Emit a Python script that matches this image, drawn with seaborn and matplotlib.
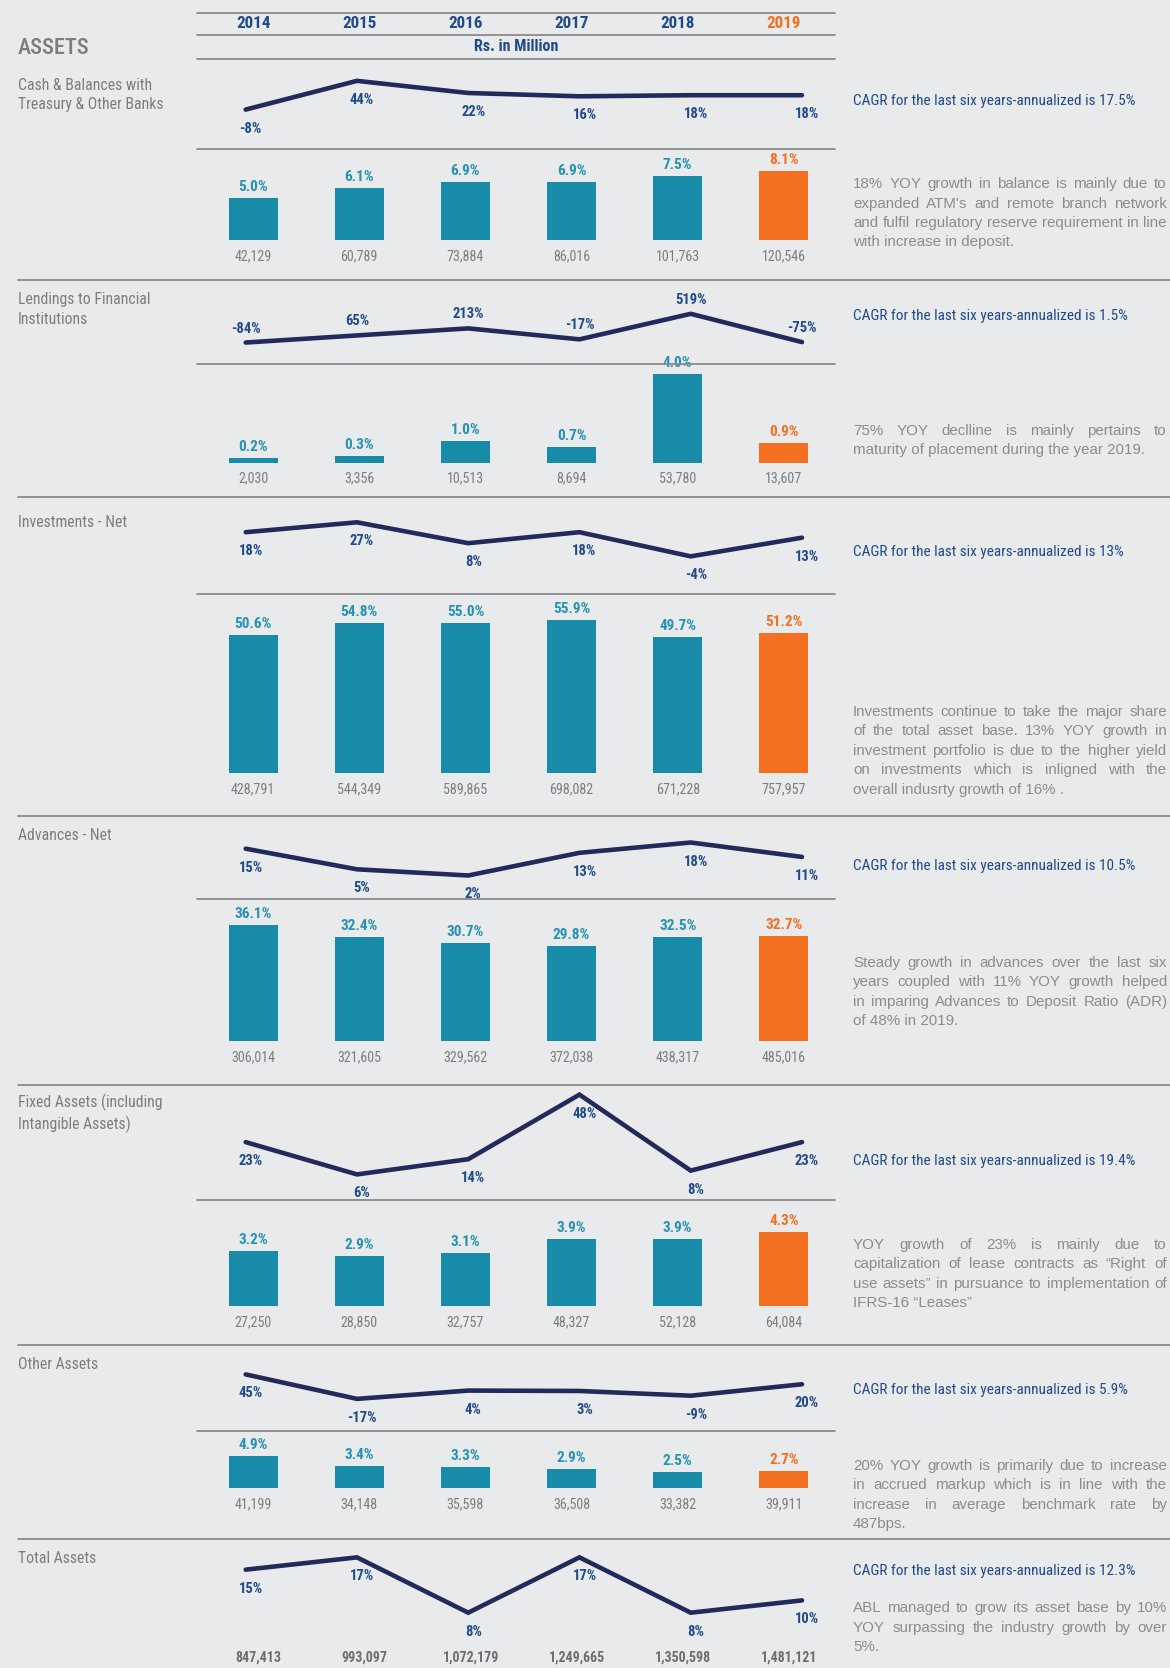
import matplotlib
matplotlib.use("Agg")
import matplotlib.pyplot as plt
from matplotlib import font_manager
from matplotlib.lines import Line2D
import seaborn as sns

# ---- data (Rs. in Million) ----
years = ["2014", "2015", "2016", "2017", "2018", "2019"]

cash_growth = [-8, 44, 22, 16, 18, 18]
cash_share = [5.0, 6.1, 6.9, 6.9, 7.5, 8.1]
cash_amount = [42129, 60789, 73884, 86016, 101763, 120546]

lend_growth = [-84, 65, 213, -17, 519, -75]
lend_share = [0.2, 0.3, 1.0, 0.7, 4.0, 0.9]
lend_amount = [2030, 3356, 10513, 8694, 53780, 13607]

inv_growth = [18, 27, 8, 18, -4, 13]
inv_share = [50.6, 54.8, 55.0, 55.9, 49.7, 51.2]
inv_amount = [428791, 544349, 589865, 698082, 671228, 757957]

adv_growth = [15, 5, 2, 13, 18, 11]
adv_share = [36.1, 32.4, 30.7, 29.8, 32.5, 32.7]
adv_amount = [306014, 321605, 329562, 372038, 438317, 485016]

fix_growth = [23, 6, 14, 48, 8, 23]
fix_share = [3.2, 2.9, 3.1, 3.9, 3.9, 4.3]
fix_amount = [27250, 28850, 32757, 48327, 52128, 64084]

oth_growth = [45, -17, 4, 3, -9, 20]
oth_share = [4.9, 3.4, 3.3, 2.9, 2.5, 2.7]
oth_amount = [41199, 34148, 35598, 36508, 33382, 39911]

tot_growth = [15, 17, 8, 17, 8, 10]
tot_amount = [847413, 993097, 1072179, 1249665, 1350598, 1481121]

cagr = ["17.5%", "1.5%", "13%", "10.5%", "19.4%", "5.9%", "12.3%"]

notes = [
    ["18% YOY growth in balance is mainly due to",
     "expanded ATM's and remote branch network",
     "and fulfil regulatory reserve requirement in line",
     "with increase in deposit."],
    ["75% YOY declline is mainly pertains to",
     "maturity of placement during the year 2019."],
    ["Investments continue to take the major share",
     "of the total asset base. 13% YOY growth in",
     "investment portfolio is due to the higher yield",
     "on investments which is inligned with the",
     "overall indusrty growth of 16% ."],
    ["Steady growth in advances over the last six",
     "years coupled with 11% YOY growth helped",
     "in imparing Advances to Deposit Ratio (ADR)",
     "of 48% in 2019."],
    ["YOY growth of 23% is mainly due to",
     "capitalization of lease contracts as \u201cRight of",
     "use assets\u201d in pursuance to implementation of",
     "IFRS-16 \u201cLeases\u201d"],
    ["20% YOY growth is primarily due to increase",
     "in accrued markup which is in line with the",
     "increase in average benchmark rate by",
     "487bps."],
    ["ABL managed to grow its asset base by 10%",
     "YOY surpassing the industry growth by over",
     "5%."],
]

# ---- style ----
BG = "#e9eaec"
TEAL = "#188ba8"
TEAL_TXT = "#2592b3"
ORANGE = "#f37021"
NAVY = "#222a5c"
BLUE = "#1f4a8c"
GRAY = "#7d7d7d"
RULE = "#8a8a8a"

sns.set_style("white")
names = {f.name for f in font_manager.fontManager.ttflist}
COND = next((n for n in ["Liberation Sans Narrow", "Roboto Condensed",
                         "Open Sans Condensed"] if n in names), None)
sq = 1.0
if COND is None:
    COND = "Roboto"
    sq = 0.84
plt.rcParams["font.family"] = [COND, "DejaVu Sans"]
BODY = ["Liberation Sans", "DejaVu Sans"]

fig = plt.figure(figsize=(11.7, 16.68), dpi=100)
fig.patch.set_facecolor(BG)

W, H = 1100.0, 1568.0
fx = lambda x: x / W
fy = lambda y: 1 - y / H

# line x-scale: point 0 at 231px, step 104.6px ; bar x-scale: 238px, step 99.8px
L0, R0 = 185, 785
LINE_XLIM = (-(231 - L0) / 104.6, 5 + (R0 - 754) / 104.6)
BAR_XLIM = (-(238 - L0) / 99.8, 5 + (R0 - 737) / 99.8)


def hline(y, x0=L0, x1=R0, lw=1.3):
    fig.add_artist(Line2D([fx(x0), fx(x1)], [fy(y), fy(y)],
                          transform=fig.transFigure, color=RULE, lw=lw))


def box(top, bot):
    return fig.add_axes([fx(L0), fy(bot), fx(R0) - fx(L0), (bot - top) / H])


def line_panel(vals, top, bot, above=False):
    ax = box(top, bot)
    sns.lineplot(x=list(range(6)), y=vals, color=NAVY, linewidth=3.3, ax=ax)
    for ln in ax.lines:
        ln.set_clip_on(False)
        ln.set_solid_joinstyle("miter")
    ax.set_xlim(*LINE_XLIM)
    ax.set_ylim(min(vals), max(vals))
    ax.axis("off")
    off = (0, 14) if above else (5, -19)
    for i, v in enumerate(vals):
        ax.annotate(f"{v}%", (i, v), xytext=off, textcoords="offset pixels",
                    ha="center", va="center", color=BLUE, fontsize=10 * sq + 0.5,
                    fontweight="bold")
    return ax


def bar_panel(share, amount, top, bot):
    ax = box(top, bot)
    pal = {y: (ORANGE if y == "2019" else TEAL) for y in years}
    sns.barplot(x=years, y=share, hue=years, palette=pal, width=0.46,
                saturation=1, legend=False, linewidth=0, edgecolor="none", ax=ax)
    ax.set_xlim(*BAR_XLIM)
    ax.set_ylim(0, max(share))
    ax.axis("off")
    for i, (s, a) in enumerate(zip(share, amount)):
        c = ORANGE if years[i] == "2019" else TEAL_TXT
        ax.annotate(f"{s:.1f}%", (i, s), xytext=(0, 11), textcoords="offset pixels",
                    ha="center", va="center", color=c, fontsize=10.5 * sq + 0.5,
                    fontweight="bold", annotation_clip=False)
        ax.annotate(f"{a:,}", (i, 0), xytext=(0, -16), textcoords="offset pixels",
                    ha="center", va="center", color=GRAY, fontsize=9.5 * sq + 0.6,
                    annotation_clip=False)
    return ax


def justified(lines, x0, y0, width, dy, **kw):
    renderer = fig.canvas.get_renderer()
    for k, line in enumerate(lines):
        y = fy(y0 + k * dy)
        words = line.split(" ")
        if k == len(lines) - 1 or len(words) == 1:
            fig.text(fx(x0), y, line, va="center", **kw)
            continue
        texts = [fig.text(0, y, w, va="center", **kw) for w in words]
        widths = [t.get_window_extent(renderer).width / fig.bbox.width for t in texts]
        gap = (width / W - sum(widths)) / (len(words) - 1)
        x = fx(x0)
        for t, w in zip(texts, widths):
            t.set_x(x)
            x += w + gap


# ---- header ----
hline(12)
hline(33)
hline(55)
hdr = box(12, 33)
hdr.set_xlim(*BAR_XLIM)
hdr.axis("off")
for i, y in enumerate(years):
    hdr.text(i, 0.5, y, ha="center", va="center", fontsize=11.5 * sq + 0.8,
             fontweight="bold", color=ORANGE if y == "2019" else BLUE,
             transform=hdr.get_xaxis_transform())
fig.text(fx(485), fy(44), "Rs. in Million", ha="center", va="center",
         fontsize=11 * sq + 0.6, fontweight="bold", color=BLUE)
fig.text(fx(17), fy(45), "ASSETS", ha="left", va="center",
         fontsize=15 * sq + 1, color=GRAY, fontweight="medium")

# ---- sections ----
sections = [
    # title, title_y, growth, line top/bot, above, sep, share, amount, bar top/bot, cagr_y, note_y
    ("Cash & Balances with\nTreasury & Other Banks", 89, cash_growth, 76, 103, False,
     140, cash_share, cash_amount, 161, 226, 95, 173),
    ("Lendings to Financial\nInstitutions", 291, lend_growth, 295, 322, True,
     342, lend_share, lend_amount, 352, 435, 297, 405),
    ("Investments - Net", 491, inv_growth, 491, 523, False,
     558, inv_share, inv_amount, 583, 727, 519, 669),
    ("Advances - Net", 785, adv_growth, 792, 823, False,
     845, adv_share, adv_amount, 870, 979, 814, 905),
    ("Fixed Assets (including\nIntangible Assets)", 1047, fix_growth, 1029, 1104, False,
     1128, fix_share, fix_amount, 1158, 1228, 1091, 1170),
    ("Other Assets", 1283, oth_growth, 1292, 1315, False,
     1345, oth_share, oth_amount, 1369, 1399, 1307, 1378),
]
rules = [263, 467, 767, 1020, 1264, 1447]

for k, (title, ty, g, lt, lb, above, sep, sh, am, bt, bb, cy, ny) in enumerate(sections):
    fig.text(fx(17), fy(ty), title, ha="left", va="center", fontsize=10.8 * sq + 0.5,
             color=GRAY, linespacing=1.35)
    line_panel(g, lt, lb, above)
    hline(sep)
    bar_panel(sh, am, bt, bb)
    fig.text(fx(802), fy(cy), f"CAGR for the last six years-annualized is {cagr[k]}",
             ha="left", va="center", fontsize=10.5 * sq + 0.5, color=BLUE)
    justified(notes[k], 802, ny, 295, 18.3, family=BODY, fontsize=10.9, color="#8c8c8c")
    hline(rules[k], 17, 1100)

# ---- total assets ----
fig.text(fx(17), fy(1465), "Total Assets", ha="left", va="center",
         fontsize=10.8 * sq + 0.5, color=GRAY)
line_panel(tot_growth, 1464, 1516, False)
tax = box(1550, 1566)
tax.set_xlim(*BAR_XLIM)
tax.axis("off")
for i, a in enumerate(tot_amount):
    tax.text(i + 0.05, 0.5, f"{a:,}", ha="center", va="center", fontsize=9.5 * sq + 0.6,
             fontweight="bold", color="#6e6e6e", transform=tax.get_xaxis_transform())
fig.text(fx(802), fy(1477), f"CAGR for the last six years-annualized is {cagr[6]}",
         ha="left", va="center", fontsize=10.5 * sq + 0.5, color=BLUE)
justified(notes[6], 802, 1512, 295, 18.3, family=BODY, fontsize=10.9, color="#8c8c8c")

fig.savefig("out.png", dpi=100, facecolor=BG)
